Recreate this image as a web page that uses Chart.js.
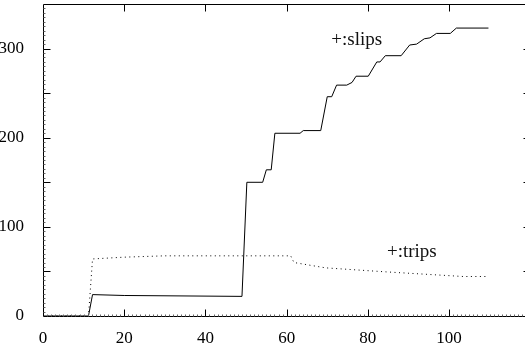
<!DOCTYPE html>
<html>
<head>
<meta charset="utf-8">
<script src="https://cdn.jsdelivr.net/npm/chart.js@4"></script>
<style>
html,body{margin:0;padding:0;background:#fff;}
#wrap{width:525px;height:351px;position:relative;}
</style>
</head>
<body>
<div id="wrap"><canvas id="c"></canvas></div>
<script>
// ---- data ----
const slipsX = [0, 11.2, 12.2, 20, 49, 50.2, 54.1, 55, 56.2, 57.1, 63.3, 64.1, 68.4, 70, 71.1, 72.3, 74.8, 76.1, 77.1, 80.1, 82.2, 83, 84.3, 88.2, 90.3, 92, 93.9, 95.3, 96.9, 100.3, 101.8, 109.7];
const slipsY = [0, 0, 24, 23, 22, 150, 150, 164, 164, 205, 205, 208, 208, 246, 246, 259, 259, 262, 269, 269, 285, 285, 292, 292, 304, 305, 311, 312, 317, 317, 323, 323];
const tripsX = [0, 11.2, 12.2, 20, 30, 61, 61.8, 69.6, 84.5, 103.5, 109.7];
const tripsY = [0, 0, 64, 66, 67.5, 67.5, 60, 54, 49.5, 44.3, 44.3];
const xTickLabels = [0, 20, 40, 60, 80, 100];
const yTickLabels = [0, 100, 200, 300];
const noteTexts = ['+:slips', '+:trips'];
const noteX = [71, 84.7];
const noteY = [304, 66.6];
const X_FRAME_END = 120;

const toPts = (xs, ys) => xs.map((x, i) => ({x: x, y: ys[i]}));

const frame = {
  id: 'frame',
  afterDraw(chart) {
    const {ctx, chartArea: a, scales: {x, y}} = chart;
    const right = Math.round(x.getPixelForValue(X_FRAME_END)) + 0.5;
    const left = Math.round(a.left) + 0.5, top = Math.round(a.top) + 0.5, bottom = Math.round(a.bottom) + 0.5;
    ctx.save();
    ctx.strokeStyle = '#000';
    ctx.lineWidth = 1;
    ctx.beginPath();
    ctx.moveTo(left, top); ctx.lineTo(right, top); ctx.lineTo(right, bottom); ctx.lineTo(left, bottom); ctx.closePath();
    ctx.stroke();
    // minor ticks
    ctx.strokeStyle = '#666';
    ctx.beginPath();
    for (let v = 1; v < X_FRAME_END; v++) {
      const px = Math.round(x.getPixelForValue(v)) + 0.5;
      ctx.moveTo(px, bottom); ctx.lineTo(px, bottom - 2);
    }
    for (let v = 5; v < 350; v += 5) {
      const py = Math.round(y.getPixelForValue(v)) + 0.5;
      ctx.moveTo(left, py); ctx.lineTo(left + 2, py);
    }
    ctx.stroke();
    // major ticks
    ctx.strokeStyle = '#000';
    ctx.beginPath();
    for (let v = 20; v < X_FRAME_END; v += 20) {
      const px = Math.round(x.getPixelForValue(v)) + 0.5;
      ctx.moveTo(px, bottom); ctx.lineTo(px, bottom - 7);
      ctx.moveTo(px, top); ctx.lineTo(px, top + 7);
    }
    for (let v = 50; v < 350; v += 50) {
      const py = Math.round(y.getPixelForValue(v)) + 0.5;
      ctx.moveTo(left, py); ctx.lineTo(left + 7, py);
      ctx.moveTo(right, py); ctx.lineTo(right - 7, py);
    }
    ctx.stroke();
    // notes
    ctx.fillStyle = '#111';
    ctx.font = '19px "Liberation Serif"';
    ctx.textAlign = 'left';
    ctx.textBaseline = 'alphabetic';
    noteTexts.forEach((t, i) => {
      ctx.fillText(t, x.getPixelForValue(noteX[i]), y.getPixelForValue(noteY[i]));
    });
    ctx.restore();
  }
};

function zeroPad(s) { s.paddingTop = 0; s.paddingBottom = 0; s.paddingLeft = 0; s.paddingRight = 0; }

new Chart(document.getElementById('c'), {
  type: 'line',
  data: {
    datasets: [
      {label: 'slips', data: toPts(slipsX, slipsY), borderColor: '#000', borderWidth: 1, pointRadius: 0, tension: 0, fill: false},
      {label: 'trips', data: toPts(tripsX, tripsY), borderColor: '#000', borderWidth: 1, borderDash: [1, 3.5], pointRadius: 0, tension: 0, fill: false}
    ]
  },
  options: {
    responsive: true,
    maintainAspectRatio: false,
    animation: false,
    layout: {padding: {top: 4, right: 0, left: 0, bottom: 0}},
    plugins: {legend: {display: false}, tooltip: {enabled: false}},
    scales: {
      x: {
        type: 'linear', min: 0, max: 118.7,
        grid: {display: false}, border: {display: false},
        afterFit(s) { s.height = 35; zeroPad(s); },
        afterBuildTicks(s) { s.ticks = xTickLabels.map(v => ({value: v})); },
        ticks: {
          padding: 4, color: '#000', maxRotation: 0, autoSkip: false,
          font: {family: 'Liberation Serif', size: 17}
        }
      },
      y: {
        type: 'linear', min: 0, max: 350,
        grid: {display: false}, border: {display: false},
        afterFit(s) { s.width = 43; zeroPad(s); },
        afterBuildTicks(s) { s.ticks = yTickLabels.map(v => ({value: v})); },
        ticks: {
          padding: 11, color: '#000', autoSkip: false,
          font: {family: 'Liberation Serif', size: 17}
        }
      }
    }
  },
  plugins: [frame]
});
</script>
</body>
</html>
